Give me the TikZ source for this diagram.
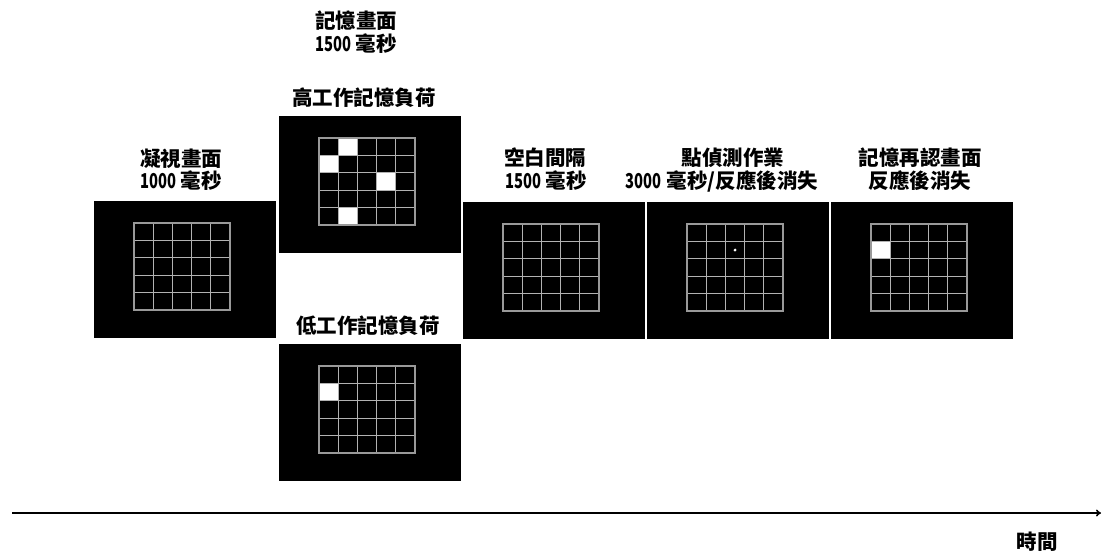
\documentclass[tikz,border=0pt]{standalone}
\usepackage{fontspec}
\setmainfont{Noto Sans CJK TC}
\usetikzlibrary{arrows.meta}
\newcommand\nd[1]{\scalebox{0.72}[1]{#1}}
\newcommand\panelgrid[2]{%
  \begin{scope}[shift={(#1+40,#2+22)}]
    \foreach \i in {1,...,4} {
      \draw[gridline] (\i*19.2,0) -- (\i*19.2,87);
      \draw[gridline] (0,\i*17.4) -- (96,\i*17.4);
    }
    \draw[gridborder] (0,0) rectangle (96,87);
  \end{scope}}
\newcommand\whitecell[4]{%
  \begin{scope}[shift={(#1+40,#2+22)}]
    \fill[white] (#3*19.2+0.6,#4*17.4+0.6) rectangle (#3*19.2+19.2-0.6,#4*17.4+17.4-0.6);
  \end{scope}}
\begin{document}
\begin{tikzpicture}[x=1pt,y=-1pt,
  panel/.style={fill=black, draw=none, minimum width=182pt, minimum height=137pt, anchor=north west, inner sep=0pt},
  gridline/.style={draw=black!30!white, line width=0.9pt},
  gridborder/.style={draw=black!40!white, line width=1.3pt},
  lbl/.style={font=\fontsize{20.5}{23}\selectfont\bfseries, align=center, inner sep=0pt},
  timeline/.style={line width=1.6pt, -{To[length=5pt,width=7pt]}}]
\useasboundingbox (0,0) rectangle (1102,553);

% panels
\node[panel] (p1) at (94,201) {};
\node[panel] (ph) at (279,116) {};
\node[panel] (pl) at (279,344) {};
\node[panel] (p3) at (463,202) {};
\node[panel] (p4) at (647,202) {};
\node[panel] (p5) at (831,202) {};

% grids
\panelgrid{94}{201}
\panelgrid{279}{116}
\panelgrid{279}{344}
\panelgrid{463}{202}
\panelgrid{647}{202}
\panelgrid{831}{202}

% memory items
\whitecell{279}{116}{1}{0}
\whitecell{279}{116}{0}{1}
\whitecell{279}{116}{3}{2}
\whitecell{279}{116}{1}{4}
\whitecell{279}{344}{0}{1}
\whitecell{831}{202}{0}{1}

% probe dot
\fill[white] (647+40+2.5*19.2, 202+22+1.5*17.4) circle (1.6pt);

% labels
\node[lbl] (l1a) at (181,159) {凝視畫面};
\node[lbl] (l1b) at (181,181) {\nd{1000} 毫秒};
\node[lbl] (lma) at (356,21) {記憶畫面};
\node[lbl] (lmb) at (356,44) {\nd{1500} 毫秒};
\node[lbl] (lh) at (364,98) {高工作記憶負荷};
\node[lbl] (ll) at (368,326) {低工作記憶負荷};
\node[lbl] (l3a) at (545,158) {空白間隔};
\node[lbl] (l3b) at (546,181) {\nd{1500} 毫秒};
\node[lbl] (l4a) at (733,158) {點偵測作業};
\node[lbl] (l4b) at (722,181) {\nd{3000} 毫秒/反應後消失};
\node[lbl] (l5a) at (920,158) {記憶再認畫面};
\node[lbl] (l5b) at (920,181) {反應後消失};
\node[lbl] (lt) at (1037,542) {時間};

% timeline
\coordinate (t0) at (12,513);
\coordinate (t1) at (1101,513);
\draw[timeline] (t0) -- (t1);
\end{tikzpicture}
\end{document}
